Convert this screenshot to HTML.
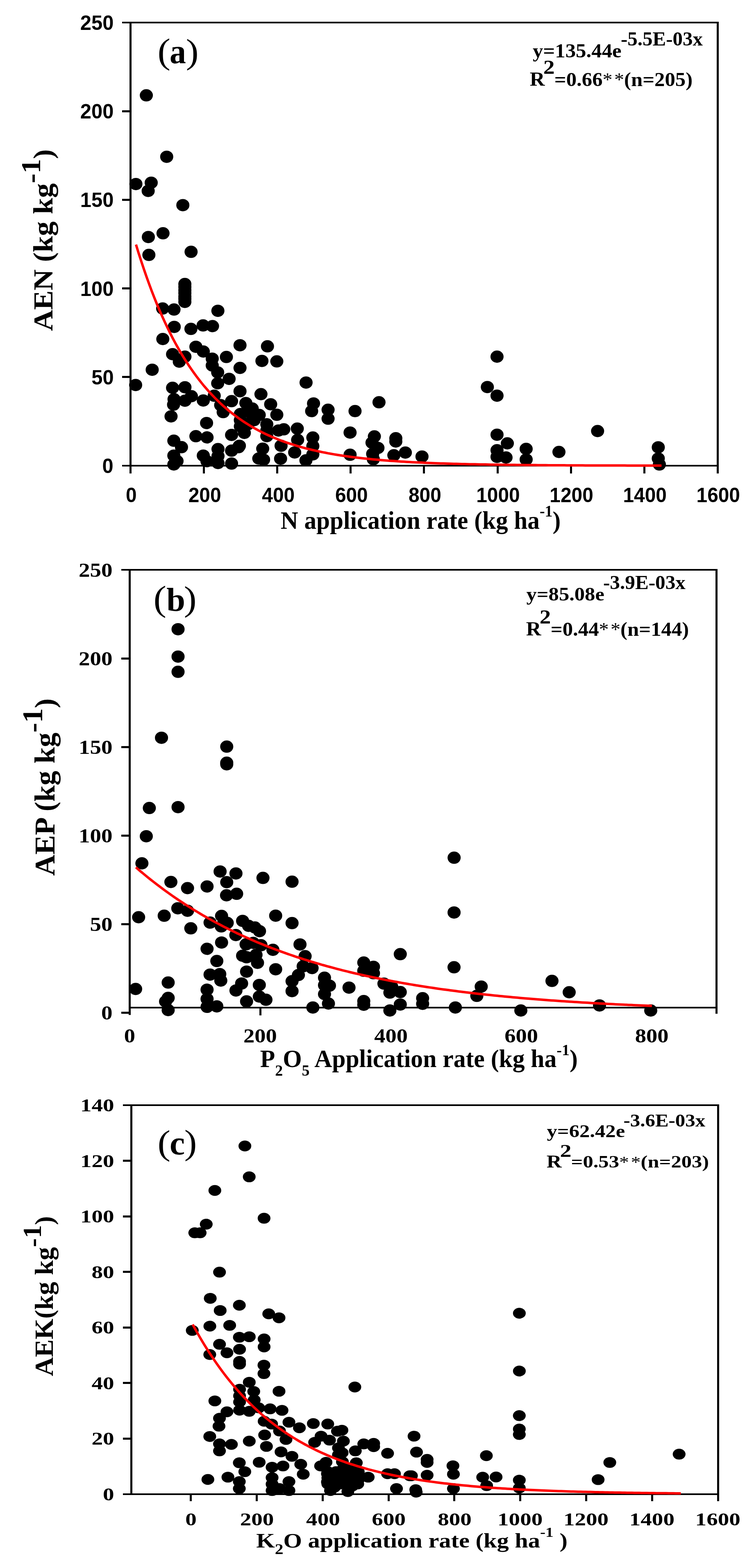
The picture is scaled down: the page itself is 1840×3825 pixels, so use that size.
<!DOCTYPE html>
<html><head><meta charset="utf-8"><title>Agronomic efficiency vs application rate</title>
<style>html,body{margin:0;padding:0;background:#fff;}svg{display:block;}</style></head>
<body><svg width="1840" height="3825" viewBox="0 0 1840 3825">
<rect width="1840" height="3825" fill="#fff"/>
<g shape-rendering="crispEdges">
<line x1="318.5" y1="53.0" x2="318.5" y2="1155.0" stroke="#000" stroke-width="5"/>
<line x1="297.5" y1="55.0" x2="1753.5" y2="55.0" stroke="#000" stroke-width="4"/>
<line x1="1751.5" y1="53.0" x2="1751.5" y2="1155.0" stroke="#000" stroke-width="4.5"/>
<line x1="297.5" y1="1136.0" x2="1751.5" y2="1136.0" stroke="#000" stroke-width="4"/>
<line x1="297.5" y1="919.8" x2="318.5" y2="919.8" stroke="#000" stroke-width="5"/>
<line x1="297.5" y1="703.6" x2="318.5" y2="703.6" stroke="#000" stroke-width="5"/>
<line x1="297.5" y1="487.4" x2="318.5" y2="487.4" stroke="#000" stroke-width="5"/>
<line x1="297.5" y1="271.2" x2="318.5" y2="271.2" stroke="#000" stroke-width="5"/>
<line x1="497.6" y1="1136.0" x2="497.6" y2="1155.0" stroke="#000" stroke-width="5"/>
<line x1="676.7" y1="1136.0" x2="676.7" y2="1155.0" stroke="#000" stroke-width="5"/>
<line x1="855.8" y1="1136.0" x2="855.8" y2="1155.0" stroke="#000" stroke-width="5"/>
<line x1="1034.9" y1="1136.0" x2="1034.9" y2="1155.0" stroke="#000" stroke-width="5"/>
<line x1="1214.0" y1="1136.0" x2="1214.0" y2="1155.0" stroke="#000" stroke-width="5"/>
<line x1="1393.1" y1="1136.0" x2="1393.1" y2="1155.0" stroke="#000" stroke-width="5"/>
<line x1="1572.2" y1="1136.0" x2="1572.2" y2="1155.0" stroke="#000" stroke-width="5"/>
<line x1="316.5" y1="1388.0" x2="316.5" y2="2476.0" stroke="#000" stroke-width="5"/>
<line x1="295.5" y1="1390.0" x2="1750.7" y2="1390.0" stroke="#000" stroke-width="4"/>
<line x1="1748.7" y1="1388.0" x2="1748.7" y2="2472.5" stroke="#000" stroke-width="4.5"/>
<line x1="316.5" y1="2457.5" x2="1748.7" y2="2457.5" stroke="#000" stroke-width="4"/>
<line x1="295.5" y1="2470.0" x2="316.5" y2="2470.0" stroke="#000" stroke-width="5"/>
<line x1="295.5" y1="2254.0" x2="316.5" y2="2254.0" stroke="#000" stroke-width="5"/>
<line x1="295.5" y1="2038.0" x2="316.5" y2="2038.0" stroke="#000" stroke-width="5"/>
<line x1="295.5" y1="1822.0" x2="316.5" y2="1822.0" stroke="#000" stroke-width="5"/>
<line x1="295.5" y1="1606.0" x2="316.5" y2="1606.0" stroke="#000" stroke-width="5"/>
<line x1="635.1" y1="2457.5" x2="635.1" y2="2477.0" stroke="#000" stroke-width="5"/>
<line x1="953.7" y1="2457.5" x2="953.7" y2="2477.0" stroke="#000" stroke-width="5"/>
<line x1="1272.3" y1="2457.5" x2="1272.3" y2="2477.0" stroke="#000" stroke-width="5"/>
<line x1="1590.9" y1="2457.5" x2="1590.9" y2="2477.0" stroke="#000" stroke-width="5"/>
<line x1="320.8" y1="2694.0" x2="320.8" y2="3647.0" stroke="#000" stroke-width="5"/>
<line x1="299.8" y1="2696.0" x2="1754.4" y2="2696.0" stroke="#000" stroke-width="4"/>
<line x1="1752.4" y1="2694.0" x2="1752.4" y2="3662.0" stroke="#000" stroke-width="4.5"/>
<line x1="299.8" y1="3645.0" x2="1752.4" y2="3645.0" stroke="#000" stroke-width="4"/>
<line x1="299.8" y1="3509.4" x2="320.8" y2="3509.4" stroke="#000" stroke-width="5"/>
<line x1="299.8" y1="3373.8" x2="320.8" y2="3373.8" stroke="#000" stroke-width="5"/>
<line x1="299.8" y1="3238.3" x2="320.8" y2="3238.3" stroke="#000" stroke-width="5"/>
<line x1="299.8" y1="3102.7" x2="320.8" y2="3102.7" stroke="#000" stroke-width="5"/>
<line x1="299.8" y1="2967.1" x2="320.8" y2="2967.1" stroke="#000" stroke-width="5"/>
<line x1="299.8" y1="2831.5" x2="320.8" y2="2831.5" stroke="#000" stroke-width="5"/>
<line x1="465.4" y1="3645.0" x2="465.4" y2="3662.0" stroke="#000" stroke-width="5"/>
<line x1="626.3" y1="3645.0" x2="626.3" y2="3662.0" stroke="#000" stroke-width="5"/>
<line x1="787.1" y1="3645.0" x2="787.1" y2="3662.0" stroke="#000" stroke-width="5"/>
<line x1="948.0" y1="3645.0" x2="948.0" y2="3662.0" stroke="#000" stroke-width="5"/>
<line x1="1108.8" y1="3645.0" x2="1108.8" y2="3662.0" stroke="#000" stroke-width="5"/>
<line x1="1269.7" y1="3645.0" x2="1269.7" y2="3662.0" stroke="#000" stroke-width="5"/>
<line x1="1430.6" y1="3645.0" x2="1430.6" y2="3662.0" stroke="#000" stroke-width="5"/>
<line x1="1591.4" y1="3645.0" x2="1591.4" y2="3662.0" stroke="#000" stroke-width="5"/>
</g>
<g fill="#000">
<ellipse cx="357.1" cy="232.6" rx="16" ry="15"/>
<ellipse cx="406.8" cy="382.4" rx="16" ry="15"/>
<ellipse cx="331.6" cy="448.9" rx="16" ry="15"/>
<ellipse cx="369.0" cy="445.7" rx="16" ry="15"/>
<ellipse cx="361.6" cy="465.7" rx="16" ry="15"/>
<ellipse cx="446.2" cy="500.4" rx="16" ry="15"/>
<ellipse cx="362.0" cy="578.2" rx="16" ry="15"/>
<ellipse cx="397.8" cy="569.1" rx="16" ry="15"/>
<ellipse cx="363.3" cy="621.8" rx="16" ry="15"/>
<ellipse cx="466.3" cy="614.3" rx="16" ry="15"/>
<ellipse cx="451.1" cy="692.8" rx="16" ry="15"/>
<ellipse cx="451.1" cy="707.9" rx="16" ry="15"/>
<ellipse cx="451.1" cy="723.0" rx="16" ry="15"/>
<ellipse cx="451.1" cy="736.4" rx="16" ry="15"/>
<ellipse cx="396.9" cy="752.6" rx="16" ry="15"/>
<ellipse cx="424.7" cy="755.1" rx="16" ry="15"/>
<ellipse cx="531.7" cy="758.2" rx="16" ry="15"/>
<ellipse cx="425.2" cy="797.4" rx="16" ry="15"/>
<ellipse cx="465.9" cy="802.3" rx="16" ry="15"/>
<ellipse cx="495.6" cy="793.8" rx="16" ry="15"/>
<ellipse cx="518.6" cy="795.5" rx="16" ry="15"/>
<ellipse cx="397.3" cy="827.0" rx="16" ry="15"/>
<ellipse cx="478.0" cy="845.9" rx="16" ry="15"/>
<ellipse cx="496.1" cy="857.5" rx="16" ry="15"/>
<ellipse cx="585.7" cy="842.2" rx="16" ry="15"/>
<ellipse cx="421.1" cy="864.0" rx="16" ry="15"/>
<ellipse cx="451.3" cy="870.1" rx="16" ry="15"/>
<ellipse cx="437.5" cy="882.2" rx="16" ry="15"/>
<ellipse cx="517.9" cy="874.9" rx="16" ry="15"/>
<ellipse cx="552.5" cy="870.8" rx="16" ry="15"/>
<ellipse cx="371.4" cy="901.9" rx="16" ry="15"/>
<ellipse cx="331.0" cy="939.2" rx="16" ry="15"/>
<ellipse cx="517.9" cy="891.5" rx="16" ry="15"/>
<ellipse cx="531.2" cy="908.4" rx="16" ry="15"/>
<ellipse cx="531.2" cy="935.0" rx="16" ry="15"/>
<ellipse cx="559.1" cy="924.2" rx="16" ry="15"/>
<ellipse cx="585.7" cy="897.5" rx="16" ry="15"/>
<ellipse cx="585.7" cy="954.4" rx="16" ry="15"/>
<ellipse cx="421.1" cy="946.0" rx="16" ry="15"/>
<ellipse cx="451.3" cy="944.7" rx="16" ry="15"/>
<ellipse cx="467.1" cy="966.5" rx="16" ry="15"/>
<ellipse cx="451.3" cy="977.4" rx="16" ry="15"/>
<ellipse cx="424.7" cy="973.8" rx="16" ry="15"/>
<ellipse cx="423.5" cy="987.1" rx="16" ry="15"/>
<ellipse cx="417.4" cy="1015.7" rx="16" ry="15"/>
<ellipse cx="496.1" cy="977.0" rx="16" ry="15"/>
<ellipse cx="522.8" cy="965.3" rx="16" ry="15"/>
<ellipse cx="538.5" cy="988.3" rx="16" ry="15"/>
<ellipse cx="544.6" cy="1005.3" rx="16" ry="15"/>
<ellipse cx="565.1" cy="978.6" rx="16" ry="15"/>
<ellipse cx="504.1" cy="1031.9" rx="16" ry="15"/>
<ellipse cx="478.0" cy="1064.1" rx="16" ry="15"/>
<ellipse cx="505.3" cy="1067.0" rx="16" ry="15"/>
<ellipse cx="565.1" cy="1061.0" rx="16" ry="15"/>
<ellipse cx="424.2" cy="1075.1" rx="16" ry="15"/>
<ellipse cx="442.9" cy="1090.8" rx="16" ry="15"/>
<ellipse cx="424.2" cy="1111.4" rx="16" ry="15"/>
<ellipse cx="432.0" cy="1124.7" rx="16" ry="15"/>
<ellipse cx="424.2" cy="1133.0" rx="16" ry="15"/>
<ellipse cx="496.1" cy="1111.4" rx="16" ry="15"/>
<ellipse cx="505.0" cy="1125.0" rx="16" ry="15"/>
<ellipse cx="532.0" cy="1095.6" rx="16" ry="15"/>
<ellipse cx="532.0" cy="1112.6" rx="16" ry="15"/>
<ellipse cx="532.0" cy="1129.5" rx="16" ry="15"/>
<ellipse cx="565.1" cy="1099.3" rx="16" ry="15"/>
<ellipse cx="582.1" cy="1090.8" rx="16" ry="15"/>
<ellipse cx="565.1" cy="1130.8" rx="16" ry="15"/>
<ellipse cx="652.7" cy="844.8" rx="16" ry="15"/>
<ellipse cx="639.2" cy="880.4" rx="16" ry="15"/>
<ellipse cx="675.5" cy="881.6" rx="16" ry="15"/>
<ellipse cx="746.9" cy="933.2" rx="16" ry="15"/>
<ellipse cx="636.8" cy="961.5" rx="16" ry="15"/>
<ellipse cx="660.5" cy="986.2" rx="16" ry="15"/>
<ellipse cx="675.5" cy="1011.8" rx="16" ry="15"/>
<ellipse cx="600.0" cy="983.3" rx="16" ry="15"/>
<ellipse cx="615.5" cy="996.5" rx="16" ry="15"/>
<ellipse cx="632.6" cy="1012.3" rx="16" ry="15"/>
<ellipse cx="617.0" cy="1017.6" rx="16" ry="15"/>
<ellipse cx="586.5" cy="1010.0" rx="16" ry="15"/>
<ellipse cx="586.5" cy="1025.0" rx="16" ry="15"/>
<ellipse cx="586.5" cy="1040.0" rx="16" ry="15"/>
<ellipse cx="596.3" cy="1055.9" rx="16" ry="15"/>
<ellipse cx="651.1" cy="1035.0" rx="16" ry="15"/>
<ellipse cx="651.1" cy="1050.0" rx="16" ry="15"/>
<ellipse cx="651.1" cy="1064.0" rx="16" ry="15"/>
<ellipse cx="679.5" cy="1050.2" rx="16" ry="15"/>
<ellipse cx="692.5" cy="1047.3" rx="16" ry="15"/>
<ellipse cx="685.9" cy="1087.4" rx="16" ry="15"/>
<ellipse cx="684.7" cy="1118.9" rx="16" ry="15"/>
<ellipse cx="641.1" cy="1094.6" rx="16" ry="15"/>
<ellipse cx="631.5" cy="1118.5" rx="16" ry="15"/>
<ellipse cx="643.2" cy="1121.4" rx="16" ry="15"/>
<ellipse cx="584.2" cy="1087.4" rx="16" ry="15"/>
<ellipse cx="725.5" cy="1045.6" rx="16" ry="15"/>
<ellipse cx="726.3" cy="1073.0" rx="16" ry="15"/>
<ellipse cx="719.1" cy="1103.7" rx="16" ry="15"/>
<ellipse cx="763.4" cy="1067.3" rx="16" ry="15"/>
<ellipse cx="763.4" cy="1088.0" rx="16" ry="15"/>
<ellipse cx="763.4" cy="1108.5" rx="16" ry="15"/>
<ellipse cx="746.5" cy="1123.0" rx="16" ry="15"/>
<ellipse cx="765.1" cy="984.2" rx="16" ry="15"/>
<ellipse cx="760.5" cy="1002.8" rx="16" ry="15"/>
<ellipse cx="800.6" cy="999.5" rx="16" ry="15"/>
<ellipse cx="800.6" cy="1021.3" rx="16" ry="15"/>
<ellipse cx="866.4" cy="1002.8" rx="16" ry="15"/>
<ellipse cx="854.3" cy="1055.2" rx="16" ry="15"/>
<ellipse cx="854.3" cy="1109.3" rx="16" ry="15"/>
<ellipse cx="924.9" cy="981.3" rx="16" ry="15"/>
<ellipse cx="913.6" cy="1064.6" rx="16" ry="15"/>
<ellipse cx="907.8" cy="1079.8" rx="16" ry="15"/>
<ellipse cx="922.3" cy="1092.7" rx="16" ry="15"/>
<ellipse cx="909.4" cy="1107.2" rx="16" ry="15"/>
<ellipse cx="911.0" cy="1120.2" rx="16" ry="15"/>
<ellipse cx="965.9" cy="1069.0" rx="16" ry="15"/>
<ellipse cx="965.9" cy="1077.0" rx="16" ry="15"/>
<ellipse cx="961.1" cy="1110.5" rx="16" ry="15"/>
<ellipse cx="989.2" cy="1104.0" rx="16" ry="15"/>
<ellipse cx="1029.8" cy="1113.7" rx="16" ry="15"/>
<ellipse cx="1189.3" cy="944.2" rx="16" ry="15"/>
<ellipse cx="1212.9" cy="965.2" rx="16" ry="15"/>
<ellipse cx="1212.9" cy="1060.4" rx="16" ry="15"/>
<ellipse cx="1238.1" cy="1081.5" rx="16" ry="15"/>
<ellipse cx="1212.9" cy="1098.3" rx="16" ry="15"/>
<ellipse cx="1212.9" cy="1114.4" rx="16" ry="15"/>
<ellipse cx="1234.9" cy="1116.0" rx="16" ry="15"/>
<ellipse cx="1284.0" cy="1095.0" rx="16" ry="15"/>
<ellipse cx="1284.0" cy="1120.9" rx="16" ry="15"/>
<ellipse cx="1364.0" cy="1102.5" rx="16" ry="15"/>
<ellipse cx="1458.3" cy="1051.5" rx="16" ry="15"/>
<ellipse cx="1212.9" cy="870.0" rx="16" ry="15"/>
<ellipse cx="1606.4" cy="1091.2" rx="16" ry="15"/>
<ellipse cx="1606.4" cy="1118.4" rx="16" ry="15"/>
<ellipse cx="1609.1" cy="1133.1" rx="16" ry="15"/>
<ellipse cx="603.0" cy="1003.0" rx="16" ry="15"/>
<ellipse cx="620.0" cy="1025.0" rx="16" ry="15"/>
<ellipse cx="605.0" cy="1035.0" rx="16" ry="15"/>
<ellipse cx="451.1" cy="700.0" rx="16" ry="15"/>
<ellipse cx="451.1" cy="715.0" rx="16" ry="15"/>
<ellipse cx="451.1" cy="729.0" rx="16" ry="15"/>
<ellipse cx="434.5" cy="1534.9" rx="16" ry="15"/>
<ellipse cx="434.5" cy="1601.7" rx="16" ry="15"/>
<ellipse cx="434.5" cy="1638.8" rx="16" ry="15"/>
<ellipse cx="394.1" cy="1799.7" rx="16" ry="15"/>
<ellipse cx="553.3" cy="1821.3" rx="16" ry="15"/>
<ellipse cx="553.3" cy="1860.5" rx="16" ry="15"/>
<ellipse cx="553.3" cy="1864.5" rx="16" ry="15"/>
<ellipse cx="364.4" cy="1971.1" rx="16" ry="15"/>
<ellipse cx="434.5" cy="1968.9" rx="16" ry="15"/>
<ellipse cx="357.0" cy="2039.9" rx="16" ry="15"/>
<ellipse cx="346.3" cy="2106.0" rx="16" ry="15"/>
<ellipse cx="417.0" cy="2151.5" rx="16" ry="15"/>
<ellipse cx="457.6" cy="2166.5" rx="16" ry="15"/>
<ellipse cx="505.3" cy="2162.4" rx="16" ry="15"/>
<ellipse cx="537.1" cy="2125.9" rx="16" ry="15"/>
<ellipse cx="575.8" cy="2130.7" rx="16" ry="15"/>
<ellipse cx="553.3" cy="2152.0" rx="16" ry="15"/>
<ellipse cx="552.8" cy="2184.0" rx="16" ry="15"/>
<ellipse cx="577.5" cy="2180.3" rx="16" ry="15"/>
<ellipse cx="338.3" cy="2237.5" rx="16" ry="15"/>
<ellipse cx="400.7" cy="2233.8" rx="16" ry="15"/>
<ellipse cx="433.9" cy="2215.7" rx="16" ry="15"/>
<ellipse cx="457.6" cy="2221.7" rx="16" ry="15"/>
<ellipse cx="465.6" cy="2264.6" rx="16" ry="15"/>
<ellipse cx="512.6" cy="2250.6" rx="16" ry="15"/>
<ellipse cx="540.7" cy="2234.3" rx="16" ry="15"/>
<ellipse cx="554.5" cy="2251.3" rx="16" ry="15"/>
<ellipse cx="540.0" cy="2259.8" rx="16" ry="15"/>
<ellipse cx="592.0" cy="2246.4" rx="16" ry="15"/>
<ellipse cx="606.6" cy="2258.5" rx="16" ry="15"/>
<ellipse cx="575.5" cy="2281.0" rx="16" ry="15"/>
<ellipse cx="331.0" cy="2412.5" rx="16" ry="15"/>
<ellipse cx="410.4" cy="2396.8" rx="16" ry="15"/>
<ellipse cx="410.4" cy="2434.3" rx="16" ry="15"/>
<ellipse cx="404.0" cy="2443.0" rx="16" ry="15"/>
<ellipse cx="410.4" cy="2464.0" rx="16" ry="15"/>
<ellipse cx="505.3" cy="2314.5" rx="16" ry="15"/>
<ellipse cx="540.7" cy="2299.2" rx="16" ry="15"/>
<ellipse cx="529.1" cy="2344.3" rx="16" ry="15"/>
<ellipse cx="512.6" cy="2377.4" rx="16" ry="15"/>
<ellipse cx="536.3" cy="2376.2" rx="16" ry="15"/>
<ellipse cx="538.8" cy="2392.0" rx="16" ry="15"/>
<ellipse cx="505.3" cy="2414.2" rx="16" ry="15"/>
<ellipse cx="505.3" cy="2436.8" rx="16" ry="15"/>
<ellipse cx="505.3" cy="2456.1" rx="16" ry="15"/>
<ellipse cx="529.1" cy="2454.9" rx="16" ry="15"/>
<ellipse cx="600.5" cy="2303.6" rx="16" ry="15"/>
<ellipse cx="592.0" cy="2331.4" rx="16" ry="15"/>
<ellipse cx="601.7" cy="2335.1" rx="16" ry="15"/>
<ellipse cx="601.7" cy="2370.2" rx="16" ry="15"/>
<ellipse cx="589.6" cy="2399.2" rx="16" ry="15"/>
<ellipse cx="575.8" cy="2416.2" rx="16" ry="15"/>
<ellipse cx="601.7" cy="2442.8" rx="16" ry="15"/>
<ellipse cx="641.7" cy="2141.6" rx="16" ry="15"/>
<ellipse cx="712.7" cy="2150.8" rx="16" ry="15"/>
<ellipse cx="672.7" cy="2233.7" rx="16" ry="15"/>
<ellipse cx="712.7" cy="2251.8" rx="16" ry="15"/>
<ellipse cx="622.0" cy="2262.5" rx="16" ry="15"/>
<ellipse cx="633.3" cy="2271.4" rx="16" ry="15"/>
<ellipse cx="636.9" cy="2305.8" rx="16" ry="15"/>
<ellipse cx="666.0" cy="2317.0" rx="16" ry="15"/>
<ellipse cx="732.1" cy="2303.9" rx="16" ry="15"/>
<ellipse cx="624.8" cy="2329.3" rx="16" ry="15"/>
<ellipse cx="628.4" cy="2348.7" rx="16" ry="15"/>
<ellipse cx="672.7" cy="2364.4" rx="16" ry="15"/>
<ellipse cx="632.8" cy="2402.7" rx="16" ry="15"/>
<ellipse cx="632.8" cy="2431.0" rx="16" ry="15"/>
<ellipse cx="649.0" cy="2438.8" rx="16" ry="15"/>
<ellipse cx="744.6" cy="2332.5" rx="16" ry="15"/>
<ellipse cx="739.8" cy="2357.2" rx="16" ry="15"/>
<ellipse cx="761.6" cy="2361.5" rx="16" ry="15"/>
<ellipse cx="728.2" cy="2378.5" rx="16" ry="15"/>
<ellipse cx="712.7" cy="2393.5" rx="16" ry="15"/>
<ellipse cx="712.7" cy="2417.7" rx="16" ry="15"/>
<ellipse cx="763.5" cy="2457.7" rx="16" ry="15"/>
<ellipse cx="791.9" cy="2385.0" rx="16" ry="15"/>
<ellipse cx="791.9" cy="2403.2" rx="16" ry="15"/>
<ellipse cx="804.0" cy="2404.4" rx="16" ry="15"/>
<ellipse cx="791.9" cy="2425.0" rx="16" ry="15"/>
<ellipse cx="801.5" cy="2448.0" rx="16" ry="15"/>
<ellipse cx="851.7" cy="2409.2" rx="16" ry="15"/>
<ellipse cx="976.8" cy="2327.6" rx="16" ry="15"/>
<ellipse cx="887.7" cy="2348.0" rx="16" ry="15"/>
<ellipse cx="911.4" cy="2358.4" rx="16" ry="15"/>
<ellipse cx="887.7" cy="2368.1" rx="16" ry="15"/>
<ellipse cx="911.4" cy="2374.1" rx="16" ry="15"/>
<ellipse cx="1108.0" cy="2359.6" rx="16" ry="15"/>
<ellipse cx="936.9" cy="2399.5" rx="16" ry="15"/>
<ellipse cx="951.4" cy="2421.3" rx="16" ry="15"/>
<ellipse cx="976.8" cy="2420.1" rx="16" ry="15"/>
<ellipse cx="976.8" cy="2450.4" rx="16" ry="15"/>
<ellipse cx="951.4" cy="2464.9" rx="16" ry="15"/>
<ellipse cx="887.7" cy="2442.0" rx="16" ry="15"/>
<ellipse cx="887.7" cy="2451.0" rx="16" ry="15"/>
<ellipse cx="1031.3" cy="2435.0" rx="16" ry="15"/>
<ellipse cx="1031.3" cy="2448.7" rx="16" ry="15"/>
<ellipse cx="1111.2" cy="2457.7" rx="16" ry="15"/>
<ellipse cx="1108.1" cy="2225.9" rx="16" ry="15"/>
<ellipse cx="1174.3" cy="2406.7" rx="16" ry="15"/>
<ellipse cx="1163.6" cy="2429.3" rx="16" ry="15"/>
<ellipse cx="1347.0" cy="2392.8" rx="16" ry="15"/>
<ellipse cx="1389.0" cy="2420.5" rx="16" ry="15"/>
<ellipse cx="1463.0" cy="2452.7" rx="16" ry="15"/>
<ellipse cx="1588.0" cy="2465.0" rx="16" ry="15"/>
<ellipse cx="1108.2" cy="2092.3" rx="16" ry="15"/>
<ellipse cx="1271.0" cy="2465.0" rx="16" ry="15"/>
<ellipse cx="618.0" cy="2300.0" rx="16" ry="15"/>
<ellipse cx="956.0" cy="2407.0" rx="16" ry="15"/>
<ellipse cx="597.6" cy="2795.5" rx="15.6" ry="13.2"/>
<ellipse cx="608.2" cy="2870.8" rx="15.6" ry="13.2"/>
<ellipse cx="524.3" cy="2904.0" rx="15.6" ry="13.2"/>
<ellipse cx="644.4" cy="2971.8" rx="15.6" ry="13.2"/>
<ellipse cx="503.3" cy="2986.3" rx="15.6" ry="13.2"/>
<ellipse cx="475.3" cy="3007.3" rx="15.6" ry="13.2"/>
<ellipse cx="488.4" cy="3007.3" rx="15.6" ry="13.2"/>
<ellipse cx="535.7" cy="3103.3" rx="15.6" ry="13.2"/>
<ellipse cx="513.1" cy="3167.2" rx="15.6" ry="13.2"/>
<ellipse cx="584.1" cy="3184.0" rx="15.6" ry="13.2"/>
<ellipse cx="537.3" cy="3196.9" rx="15.6" ry="13.2"/>
<ellipse cx="655.8" cy="3205.0" rx="15.6" ry="13.2"/>
<ellipse cx="680.9" cy="3214.7" rx="15.6" ry="13.2"/>
<ellipse cx="469.2" cy="3245.4" rx="15.6" ry="13.2"/>
<ellipse cx="512.1" cy="3235.0" rx="15.6" ry="13.2"/>
<ellipse cx="560.5" cy="3233.1" rx="15.6" ry="13.2"/>
<ellipse cx="584.1" cy="3262.1" rx="15.6" ry="13.2"/>
<ellipse cx="608.3" cy="3260.9" rx="15.6" ry="13.2"/>
<ellipse cx="644.5" cy="3266.3" rx="15.6" ry="13.2"/>
<ellipse cx="644.5" cy="3285.7" rx="15.6" ry="13.2"/>
<ellipse cx="535.7" cy="3279.3" rx="15.6" ry="13.2"/>
<ellipse cx="511.9" cy="3304.3" rx="15.6" ry="13.2"/>
<ellipse cx="553.8" cy="3300.0" rx="15.6" ry="13.2"/>
<ellipse cx="584.6" cy="3291.5" rx="15.6" ry="13.2"/>
<ellipse cx="584.6" cy="3321.0" rx="15.6" ry="13.2"/>
<ellipse cx="584.6" cy="3327.6" rx="15.6" ry="13.2"/>
<ellipse cx="644.1" cy="3330.2" rx="15.6" ry="13.2"/>
<ellipse cx="644.1" cy="3350.8" rx="15.6" ry="13.2"/>
<ellipse cx="608.3" cy="3371.9" rx="15.6" ry="13.2"/>
<ellipse cx="584.6" cy="3389.0" rx="15.6" ry="13.2"/>
<ellipse cx="584.6" cy="3405.0" rx="15.6" ry="13.2"/>
<ellipse cx="584.6" cy="3420.0" rx="15.6" ry="13.2"/>
<ellipse cx="584.6" cy="3440.0" rx="15.6" ry="13.2"/>
<ellipse cx="619.2" cy="3394.4" rx="15.6" ry="13.2"/>
<ellipse cx="620.4" cy="3415.0" rx="15.6" ry="13.2"/>
<ellipse cx="680.9" cy="3393.9" rx="15.6" ry="13.2"/>
<ellipse cx="524.3" cy="3417.4" rx="15.6" ry="13.2"/>
<ellipse cx="553.8" cy="3444.0" rx="15.6" ry="13.2"/>
<ellipse cx="608.3" cy="3442.8" rx="15.6" ry="13.2"/>
<ellipse cx="631.3" cy="3434.3" rx="15.6" ry="13.2"/>
<ellipse cx="659.1" cy="3436.8" rx="15.6" ry="13.2"/>
<ellipse cx="688.2" cy="3440.4" rx="15.6" ry="13.2"/>
<ellipse cx="535.6" cy="3459.8" rx="15.6" ry="13.2"/>
<ellipse cx="534.4" cy="3479.1" rx="15.6" ry="13.2"/>
<ellipse cx="644.6" cy="3467.0" rx="15.6" ry="13.2"/>
<ellipse cx="705.1" cy="3469.4" rx="15.6" ry="13.2"/>
<ellipse cx="511.9" cy="3504.2" rx="15.6" ry="13.2"/>
<ellipse cx="535.6" cy="3522.3" rx="15.6" ry="13.2"/>
<ellipse cx="564.7" cy="3523.5" rx="15.6" ry="13.2"/>
<ellipse cx="535.6" cy="3539.3" rx="15.6" ry="13.2"/>
<ellipse cx="608.3" cy="3515.5" rx="15.6" ry="13.2"/>
<ellipse cx="645.8" cy="3500.5" rx="15.6" ry="13.2"/>
<ellipse cx="650.2" cy="3528.4" rx="15.6" ry="13.2"/>
<ellipse cx="662.8" cy="3473.9" rx="15.6" ry="13.2"/>
<ellipse cx="682.1" cy="3490.8" rx="15.6" ry="13.2"/>
<ellipse cx="697.9" cy="3511.4" rx="15.6" ry="13.2"/>
<ellipse cx="730.6" cy="3483.0" rx="15.6" ry="13.2"/>
<ellipse cx="685.8" cy="3541.7" rx="15.6" ry="13.2"/>
<ellipse cx="712.4" cy="3552.6" rx="15.6" ry="13.2"/>
<ellipse cx="632.5" cy="3567.1" rx="15.6" ry="13.2"/>
<ellipse cx="584.0" cy="3568.3" rx="15.6" ry="13.2"/>
<ellipse cx="597.4" cy="3590.1" rx="15.6" ry="13.2"/>
<ellipse cx="556.2" cy="3603.4" rx="15.6" ry="13.2"/>
<ellipse cx="584.0" cy="3614.3" rx="15.6" ry="13.2"/>
<ellipse cx="584.0" cy="3631.3" rx="15.6" ry="13.2"/>
<ellipse cx="507.3" cy="3609.0" rx="15.6" ry="13.2"/>
<ellipse cx="664.0" cy="3579.2" rx="15.6" ry="13.2"/>
<ellipse cx="690.6" cy="3576.1" rx="15.6" ry="13.2"/>
<ellipse cx="664.0" cy="3604.6" rx="15.6" ry="13.2"/>
<ellipse cx="664.0" cy="3620.4" rx="15.6" ry="13.2"/>
<ellipse cx="664.0" cy="3636.1" rx="15.6" ry="13.2"/>
<ellipse cx="705.1" cy="3614.3" rx="15.6" ry="13.2"/>
<ellipse cx="705.1" cy="3636.1" rx="15.6" ry="13.2"/>
<ellipse cx="682.1" cy="3631.3" rx="15.6" ry="13.2"/>
<ellipse cx="865.9" cy="3383.5" rx="15.6" ry="13.2"/>
<ellipse cx="764.6" cy="3472.6" rx="15.6" ry="13.2"/>
<ellipse cx="799.8" cy="3473.8" rx="15.6" ry="13.2"/>
<ellipse cx="834.4" cy="3488.9" rx="15.6" ry="13.2"/>
<ellipse cx="823.5" cy="3491.3" rx="15.6" ry="13.2"/>
<ellipse cx="783.5" cy="3503.4" rx="15.6" ry="13.2"/>
<ellipse cx="767.8" cy="3518.5" rx="15.6" ry="13.2"/>
<ellipse cx="804.1" cy="3513.1" rx="15.6" ry="13.2"/>
<ellipse cx="838.0" cy="3515.5" rx="15.6" ry="13.2"/>
<ellipse cx="825.9" cy="3532.0" rx="15.6" ry="13.2"/>
<ellipse cx="867.1" cy="3539.3" rx="15.6" ry="13.2"/>
<ellipse cx="887.7" cy="3522.3" rx="15.6" ry="13.2"/>
<ellipse cx="911.9" cy="3521.0" rx="15.6" ry="13.2"/>
<ellipse cx="911.9" cy="3529.0" rx="15.6" ry="13.2"/>
<ellipse cx="945.8" cy="3545.3" rx="15.6" ry="13.2"/>
<ellipse cx="733.9" cy="3572.0" rx="15.6" ry="13.2"/>
<ellipse cx="740.0" cy="3596.2" rx="15.6" ry="13.2"/>
<ellipse cx="825.9" cy="3549.0" rx="15.6" ry="13.2"/>
<ellipse cx="835.6" cy="3566.0" rx="15.6" ry="13.2"/>
<ellipse cx="835.6" cy="3585.0" rx="15.6" ry="13.2"/>
<ellipse cx="820.0" cy="3605.0" rx="15.6" ry="13.2"/>
<ellipse cx="845.0" cy="3620.0" rx="15.6" ry="13.2"/>
<ellipse cx="806.5" cy="3636.0" rx="15.6" ry="13.2"/>
<ellipse cx="848.9" cy="3638.5" rx="15.6" ry="13.2"/>
<ellipse cx="795.6" cy="3567.1" rx="15.6" ry="13.2"/>
<ellipse cx="782.3" cy="3576.0" rx="15.6" ry="13.2"/>
<ellipse cx="799.0" cy="3595.0" rx="15.6" ry="13.2"/>
<ellipse cx="799.0" cy="3615.0" rx="15.6" ry="13.2"/>
<ellipse cx="869.5" cy="3568.3" rx="15.6" ry="13.2"/>
<ellipse cx="874.3" cy="3590.0" rx="15.6" ry="13.2"/>
<ellipse cx="874.3" cy="3609.5" rx="15.6" ry="13.2"/>
<ellipse cx="898.5" cy="3603.4" rx="15.6" ry="13.2"/>
<ellipse cx="860.0" cy="3625.0" rx="15.6" ry="13.2"/>
<ellipse cx="945.8" cy="3595.0" rx="15.6" ry="13.2"/>
<ellipse cx="962.7" cy="3595.0" rx="15.6" ry="13.2"/>
<ellipse cx="967.6" cy="3631.3" rx="15.6" ry="13.2"/>
<ellipse cx="1010.4" cy="3503.4" rx="15.6" ry="13.2"/>
<ellipse cx="1016.4" cy="3542.3" rx="15.6" ry="13.2"/>
<ellipse cx="1042.3" cy="3560.0" rx="15.6" ry="13.2"/>
<ellipse cx="1042.3" cy="3567.5" rx="15.6" ry="13.2"/>
<ellipse cx="1042.3" cy="3598.6" rx="15.6" ry="13.2"/>
<ellipse cx="1000.0" cy="3600.0" rx="15.6" ry="13.2"/>
<ellipse cx="1004.0" cy="3600.0" rx="15.6" ry="13.2"/>
<ellipse cx="1014.5" cy="3634.0" rx="15.6" ry="13.2"/>
<ellipse cx="1015.7" cy="3640.0" rx="15.6" ry="13.2"/>
<ellipse cx="1105.3" cy="3575.6" rx="15.6" ry="13.2"/>
<ellipse cx="1106.5" cy="3596.2" rx="15.6" ry="13.2"/>
<ellipse cx="1106.5" cy="3631.3" rx="15.6" ry="13.2"/>
<ellipse cx="1186.9" cy="3551.0" rx="15.6" ry="13.2"/>
<ellipse cx="1177.9" cy="3603.5" rx="15.6" ry="13.2"/>
<ellipse cx="1210.6" cy="3603.0" rx="15.6" ry="13.2"/>
<ellipse cx="1187.6" cy="3624.1" rx="15.6" ry="13.2"/>
<ellipse cx="1267.3" cy="3453.3" rx="15.6" ry="13.2"/>
<ellipse cx="1267.3" cy="3486.0" rx="15.6" ry="13.2"/>
<ellipse cx="1267.3" cy="3499.3" rx="15.6" ry="13.2"/>
<ellipse cx="1267.3" cy="3610.7" rx="15.6" ry="13.2"/>
<ellipse cx="1267.3" cy="3630.0" rx="15.6" ry="13.2"/>
<ellipse cx="1459.6" cy="3609.4" rx="15.6" ry="13.2"/>
<ellipse cx="1488.1" cy="3567.6" rx="15.6" ry="13.2"/>
<ellipse cx="1657.3" cy="3547.3" rx="15.6" ry="13.2"/>
<ellipse cx="1267.4" cy="3203.5" rx="15.6" ry="13.2"/>
<ellipse cx="1267.4" cy="3344.5" rx="15.6" ry="13.2"/>
<ellipse cx="834.9" cy="3543.9" rx="15.6" ry="13.2"/>
<ellipse cx="800.0" cy="3590.0" rx="15.6" ry="13.2"/>
<ellipse cx="800.0" cy="3605.0" rx="15.6" ry="13.2"/>
<ellipse cx="800.0" cy="3620.0" rx="15.6" ry="13.2"/>
<ellipse cx="820.0" cy="3590.0" rx="15.6" ry="13.2"/>
<ellipse cx="840.0" cy="3600.0" rx="15.6" ry="13.2"/>
<ellipse cx="855.0" cy="3590.0" rx="15.6" ry="13.2"/>
<ellipse cx="855.0" cy="3610.0" rx="15.6" ry="13.2"/>
<ellipse cx="873.0" cy="3620.0" rx="15.6" ry="13.2"/>
<ellipse cx="830.0" cy="3620.0" rx="15.6" ry="13.2"/>
<ellipse cx="816.0" cy="3628.0" rx="15.6" ry="13.2"/>
<ellipse cx="860.0" cy="3580.0" rx="15.6" ry="13.2"/>
</g>
<polyline points="331.9,596.7 338.3,617.6 344.8,637.6 351.2,656.8 357.6,675.3 364.0,693.1 370.4,710.2 376.8,726.7 383.2,742.5 389.6,757.7 396.1,772.3 402.5,786.3 408.9,799.8 415.3,812.8 421.7,825.3 428.1,837.3 434.5,848.8 440.9,859.9 447.3,870.6 453.8,880.8 460.2,890.7 466.6,900.1 473.0,909.2 479.4,918.0 485.8,926.4 492.2,934.5 498.6,942.3 505.1,949.8 511.5,957.0 517.9,963.9 524.3,970.5 530.7,976.9 537.1,983.1 543.5,989.0 549.9,994.6 556.3,1000.1 562.8,1005.3 569.2,1010.4 575.6,1015.2 582.0,1019.9 588.4,1024.4 594.8,1028.7 601.2,1032.8 607.6,1036.8 614.1,1040.7 620.5,1044.3 626.9,1047.9 633.3,1051.3 639.7,1054.6 646.1,1057.7 652.5,1060.7 658.9,1063.6 665.3,1066.4 671.8,1069.1 678.2,1071.7 684.6,1074.2 691.0,1076.6 697.4,1078.9 703.8,1081.1 710.2,1083.2 716.6,1085.2 723.1,1087.2 729.5,1089.1 735.9,1090.9 742.3,1092.6 748.7,1094.3 755.1,1095.9 761.5,1097.5 767.9,1098.9 774.3,1100.4 780.8,1101.8 787.2,1103.1 793.6,1104.3 800.0,1105.6 806.4,1106.7 812.8,1107.9 819.2,1109.0 825.6,1110.0 832.1,1111.0 838.5,1112.0 844.9,1112.9 851.3,1113.8 857.7,1114.7 864.1,1115.5 870.5,1116.3 876.9,1117.0 883.3,1117.8 889.8,1118.5 896.2,1119.1 902.6,1119.8 909.0,1120.4 915.4,1121.0 921.8,1121.6 928.2,1122.2 934.6,1122.7 941.1,1123.2 947.5,1123.7 953.9,1124.2 960.3,1124.6 966.7,1125.1 973.1,1125.5 979.5,1125.9 985.9,1126.3 992.3,1126.7 998.8,1127.0 1005.2,1127.4 1011.6,1127.7 1018.0,1128.0 1024.4,1128.3 1030.8,1128.6 1037.2,1128.9 1043.6,1129.2 1050.1,1129.4 1056.5,1129.7 1062.9,1129.9 1069.3,1130.2 1075.7,1130.4 1082.1,1130.6 1088.5,1130.8 1094.9,1131.0 1101.3,1131.2 1107.8,1131.4 1114.2,1131.6 1120.6,1131.8 1127.0,1131.9 1133.4,1132.1 1139.8,1132.2 1146.2,1132.4 1152.6,1132.5 1159.1,1132.6 1165.5,1132.8 1171.9,1132.9 1178.3,1133.0 1184.7,1133.1 1191.1,1133.2 1197.5,1133.4 1203.9,1133.5 1210.3,1133.6 1216.8,1133.6 1223.2,1133.7 1229.6,1133.8 1236.0,1133.9 1242.4,1134.0 1248.8,1134.1 1255.2,1134.1 1261.6,1134.2 1268.1,1134.3 1274.5,1134.3 1280.9,1134.4 1287.3,1134.5 1293.7,1134.5 1300.1,1134.6 1306.5,1134.6 1312.9,1134.7 1319.3,1134.7 1325.8,1134.8 1332.2,1134.8 1338.6,1134.9 1345.0,1134.9 1351.4,1135.0 1357.8,1135.0 1364.2,1135.0 1370.6,1135.1 1377.1,1135.1 1383.5,1135.2 1389.9,1135.2 1396.3,1135.2 1402.7,1135.2 1409.1,1135.3 1415.5,1135.3 1421.9,1135.3 1428.3,1135.4 1434.8,1135.4 1441.2,1135.4 1447.6,1135.4 1454.0,1135.5 1460.4,1135.5 1466.8,1135.5 1473.2,1135.5 1479.6,1135.5 1486.1,1135.5 1492.5,1135.6 1498.9,1135.6 1505.3,1135.6 1511.7,1135.6 1518.1,1135.6 1524.5,1135.6 1530.9,1135.7 1537.3,1135.7 1543.8,1135.7 1550.2,1135.7 1556.6,1135.7 1563.0,1135.7 1569.4,1135.7 1575.8,1135.7 1582.2,1135.8 1588.6,1135.8 1595.1,1135.8 1601.5,1135.8 1607.9,1135.8 1614.3,1135.8" fill="none" stroke="#f00" stroke-width="6" stroke-linejoin="round" stroke-linecap="butt"/>
<polyline points="331.6,2115.8 337.9,2121.2 344.2,2126.6 350.5,2131.8 356.8,2137.0 363.1,2142.1 369.4,2147.1 375.7,2152.0 382.0,2156.9 388.3,2161.7 394.6,2166.4 400.9,2171.1 407.2,2175.6 413.5,2180.1 419.8,2184.6 426.1,2188.9 432.4,2193.2 438.7,2197.5 445.0,2201.6 451.3,2205.7 457.6,2209.8 463.9,2213.8 470.2,2217.7 476.4,2221.5 482.7,2225.3 489.0,2229.1 495.3,2232.8 501.6,2236.4 507.9,2240.0 514.2,2243.5 520.5,2247.0 526.8,2250.4 533.1,2253.7 539.4,2257.0 545.7,2260.3 552.0,2263.5 558.3,2266.7 564.6,2269.8 570.9,2272.8 577.2,2275.9 583.5,2278.8 589.8,2281.7 596.1,2284.6 602.4,2287.5 608.7,2290.3 615.0,2293.0 621.3,2295.7 627.6,2298.4 633.9,2301.0 640.2,2303.6 646.5,2306.1 652.7,2308.6 659.0,2311.1 665.3,2313.5 671.6,2315.9 677.9,2318.3 684.2,2320.6 690.5,2322.9 696.8,2325.1 703.1,2327.4 709.4,2329.5 715.7,2331.7 722.0,2333.8 728.3,2335.9 734.6,2337.9 740.9,2340.0 747.2,2341.9 753.5,2343.9 759.8,2345.8 766.1,2347.7 772.4,2349.6 778.7,2351.4 785.0,2353.3 791.3,2355.0 797.6,2356.8 803.9,2358.5 810.2,2360.2 816.5,2361.9 822.7,2363.6 829.0,2365.2 835.3,2366.8 841.6,2368.4 847.9,2369.9 854.2,2371.5 860.5,2373.0 866.8,2374.5 873.1,2375.9 879.4,2377.4 885.7,2378.8 892.0,2380.2 898.3,2381.5 904.6,2382.9 910.9,2384.2 917.2,2385.5 923.5,2386.8 929.8,2388.1 936.1,2389.4 942.4,2390.6 948.7,2391.8 955.0,2393.0 961.3,2394.2 967.6,2395.3 973.9,2396.5 980.2,2397.6 986.5,2398.7 992.7,2399.8 999.0,2400.9 1005.3,2401.9 1011.6,2403.0 1017.9,2404.0 1024.2,2405.0 1030.5,2406.0 1036.8,2407.0 1043.1,2408.0 1049.4,2408.9 1055.7,2409.8 1062.0,2410.8 1068.3,2411.7 1074.6,2412.6 1080.9,2413.4 1087.2,2414.3 1093.5,2415.1 1099.8,2416.0 1106.1,2416.8 1112.4,2417.6 1118.7,2418.4 1125.0,2419.2 1131.3,2420.0 1137.6,2420.8 1143.9,2421.5 1150.2,2422.3 1156.5,2423.0 1162.7,2423.7 1169.0,2424.4 1175.3,2425.1 1181.6,2425.8 1187.9,2426.5 1194.2,2427.1 1200.5,2427.8 1206.8,2428.4 1213.1,2429.1 1219.4,2429.7 1225.7,2430.3 1232.0,2430.9 1238.3,2431.5 1244.6,2432.1 1250.9,2432.7 1257.2,2433.3 1263.5,2433.8 1269.8,2434.4 1276.1,2434.9 1282.4,2435.5 1288.7,2436.0 1295.0,2436.5 1301.3,2437.0 1307.6,2437.5 1313.9,2438.0 1320.2,2438.5 1326.5,2439.0 1332.8,2439.5 1339.0,2439.9 1345.3,2440.4 1351.6,2440.8 1357.9,2441.3 1364.2,2441.7 1370.5,2442.2 1376.8,2442.6 1383.1,2443.0 1389.4,2443.4 1395.7,2443.8 1402.0,2444.2 1408.3,2444.6 1414.6,2445.0 1420.9,2445.4 1427.2,2445.8 1433.5,2446.1 1439.8,2446.5 1446.1,2446.9 1452.4,2447.2 1458.7,2447.6 1465.0,2447.9 1471.3,2448.2 1477.6,2448.6 1483.9,2448.9 1490.2,2449.2 1496.5,2449.5 1502.8,2449.9 1509.0,2450.2 1515.3,2450.5 1521.6,2450.8 1527.9,2451.1 1534.2,2451.4 1540.5,2451.6 1546.8,2451.9 1553.1,2452.2 1559.4,2452.5 1565.7,2452.7 1572.0,2453.0 1578.3,2453.3 1584.6,2453.5 1590.9,2453.8" fill="none" stroke="#f00" stroke-width="6" stroke-linejoin="round" stroke-linecap="butt"/>
<polyline points="470.2,3230.9 476.2,3241.8 482.1,3252.4 488.1,3262.7 494.0,3272.8 500.0,3282.6 506.0,3292.1 511.9,3301.4 517.9,3310.4 523.8,3319.2 529.8,3327.8 535.7,3336.1 541.7,3344.3 547.7,3352.2 553.6,3359.9 559.6,3367.4 565.5,3374.7 571.5,3381.8 577.4,3388.7 583.4,3395.5 589.3,3402.0 595.3,3408.4 601.3,3414.6 607.2,3420.7 613.2,3426.6 619.1,3432.3 625.1,3437.9 631.0,3443.4 637.0,3448.7 642.9,3453.9 648.9,3458.9 654.9,3463.8 660.8,3468.5 666.8,3473.2 672.7,3477.7 678.7,3482.1 684.6,3486.4 690.6,3490.6 696.5,3494.6 702.5,3498.6 708.5,3502.4 714.4,3506.2 720.4,3509.8 726.3,3513.4 732.3,3516.9 738.2,3520.2 744.2,3523.5 750.2,3526.7 756.1,3529.8 762.1,3532.8 768.0,3535.8 774.0,3538.7 779.9,3541.5 785.9,3544.2 791.8,3546.8 797.8,3549.4 803.8,3551.9 809.7,3554.4 815.7,3556.8 821.6,3559.1 827.6,3561.4 833.5,3563.6 839.5,3565.7 845.4,3567.8 851.4,3569.8 857.4,3571.8 863.3,3573.7 869.3,3575.6 875.2,3577.4 881.2,3579.2 887.1,3580.9 893.1,3582.6 899.0,3584.3 905.0,3585.8 911.0,3587.4 916.9,3588.9 922.9,3590.4 928.8,3591.8 934.8,3593.2 940.7,3594.6 946.7,3595.9 952.6,3597.2 958.6,3598.5 964.6,3599.7 970.5,3600.9 976.5,3602.0 982.4,3603.2 988.4,3604.3 994.3,3605.3 1000.3,3606.4 1006.3,3607.4 1012.2,3608.4 1018.2,3609.4 1024.1,3610.3 1030.1,3611.2 1036.0,3612.1 1042.0,3613.0 1047.9,3613.8 1053.9,3614.6 1059.9,3615.4 1065.8,3616.2 1071.8,3617.0 1077.7,3617.7 1083.7,3618.4 1089.6,3619.1 1095.6,3619.8 1101.5,3620.5 1107.5,3621.1 1113.5,3621.7 1119.4,3622.3 1125.4,3622.9 1131.3,3623.5 1137.3,3624.1 1143.2,3624.6 1149.2,3625.2 1155.1,3625.7 1161.1,3626.2 1167.1,3626.7 1173.0,3627.2 1179.0,3627.6 1184.9,3628.1 1190.9,3628.5 1196.8,3629.0 1202.8,3629.4 1208.8,3629.8 1214.7,3630.2 1220.7,3630.6 1226.6,3631.0 1232.6,3631.3 1238.5,3631.7 1244.5,3632.1 1250.4,3632.4 1256.4,3632.7 1262.4,3633.1 1268.3,3633.4 1274.3,3633.7 1280.2,3634.0 1286.2,3634.3 1292.1,3634.5 1298.1,3634.8 1304.0,3635.1 1310.0,3635.3 1316.0,3635.6 1321.9,3635.8 1327.9,3636.1 1333.8,3636.3 1339.8,3636.6 1345.7,3636.8 1351.7,3637.0 1357.6,3637.2 1363.6,3637.4 1369.6,3637.6 1375.5,3637.8 1381.5,3638.0 1387.4,3638.2 1393.4,3638.4 1399.3,3638.5 1405.3,3638.7 1411.2,3638.9 1417.2,3639.0 1423.2,3639.2 1429.1,3639.3 1435.1,3639.5 1441.0,3639.6 1447.0,3639.8 1452.9,3639.9 1458.9,3640.0 1464.9,3640.2 1470.8,3640.3 1476.8,3640.4 1482.7,3640.5 1488.7,3640.7 1494.6,3640.8 1500.6,3640.9 1506.5,3641.0 1512.5,3641.1 1518.5,3641.2 1524.4,3641.3 1530.4,3641.4 1536.3,3641.5 1542.3,3641.6 1548.2,3641.7 1554.2,3641.8 1560.1,3641.8 1566.1,3641.9 1572.1,3642.0 1578.0,3642.1 1584.0,3642.2 1589.9,3642.2 1595.9,3642.3 1601.8,3642.4 1607.8,3642.5 1613.7,3642.5 1619.7,3642.6 1625.7,3642.6 1631.6,3642.7 1637.6,3642.8 1643.5,3642.8 1649.5,3642.9 1655.4,3642.9 1661.4,3643.0" fill="none" stroke="#f00" stroke-width="6" stroke-linejoin="round" stroke-linecap="butt"/>
<g fill="#000">
<text transform="translate(249.59,1153.90) scale(0.9772,1.0000)" font-size="50" font-family="'Liberation Sans',Arial,sans-serif" font-weight="bold">0</text>
<text transform="translate(223.21,937.70) scale(0.9772,1.0000)" font-size="50" font-family="'Liberation Sans',Arial,sans-serif" font-weight="bold">50</text>
<text transform="translate(195.85,721.50) scale(0.9772,1.0000)" font-size="50" font-family="'Liberation Sans',Arial,sans-serif" font-weight="bold">100</text>
<text transform="translate(195.85,505.30) scale(0.9772,1.0000)" font-size="50" font-family="'Liberation Sans',Arial,sans-serif" font-weight="bold">150</text>
<text transform="translate(195.85,289.10) scale(0.9772,1.0000)" font-size="50" font-family="'Liberation Sans',Arial,sans-serif" font-weight="bold">200</text>
<text transform="translate(195.85,72.90) scale(0.9772,1.0000)" font-size="50" font-family="'Liberation Sans',Arial,sans-serif" font-weight="bold">250</text>
<text transform="translate(306.91,1225.00) scale(0.9566,1.0029)" font-size="50" font-family="'Liberation Sans',Arial,sans-serif" font-weight="bold">0</text>
<text transform="translate(459.70,1225.00) scale(0.9566,1.0029)" font-size="50" font-family="'Liberation Sans',Arial,sans-serif" font-weight="bold">200</text>
<text transform="translate(639.28,1225.00) scale(0.9566,1.0029)" font-size="50" font-family="'Liberation Sans',Arial,sans-serif" font-weight="bold">400</text>
<text transform="translate(817.90,1225.00) scale(0.9566,1.0029)" font-size="50" font-family="'Liberation Sans',Arial,sans-serif" font-weight="bold">600</text>
<text transform="translate(997.00,1225.00) scale(0.9566,1.0029)" font-size="50" font-family="'Liberation Sans',Arial,sans-serif" font-weight="bold">800</text>
<text transform="translate(1162.23,1225.00) scale(0.9566,1.0029)" font-size="50" font-family="'Liberation Sans',Arial,sans-serif" font-weight="bold">1000</text>
<text transform="translate(1341.33,1225.00) scale(0.9566,1.0029)" font-size="50" font-family="'Liberation Sans',Arial,sans-serif" font-weight="bold">1200</text>
<text transform="translate(1520.43,1225.00) scale(0.9566,1.0029)" font-size="50" font-family="'Liberation Sans',Arial,sans-serif" font-weight="bold">1400</text>
<text transform="translate(1699.53,1225.00) scale(0.9566,1.0029)" font-size="50" font-family="'Liberation Sans',Arial,sans-serif" font-weight="bold">1600</text>
<text transform="translate(247.03,2487.10) scale(1.1485,1.0062)" font-size="48" font-family="'Liberation Serif','Times New Roman',serif" font-weight="bold">0</text>
<text transform="translate(219.47,2271.10) scale(1.1485,1.0062)" font-size="48" font-family="'Liberation Serif','Times New Roman',serif" font-weight="bold">50</text>
<text transform="translate(191.90,2055.10) scale(1.1485,1.0062)" font-size="48" font-family="'Liberation Serif','Times New Roman',serif" font-weight="bold">100</text>
<text transform="translate(191.90,1839.10) scale(1.1485,1.0062)" font-size="48" font-family="'Liberation Serif','Times New Roman',serif" font-weight="bold">150</text>
<text transform="translate(191.90,1623.10) scale(1.1485,1.0062)" font-size="48" font-family="'Liberation Serif','Times New Roman',serif" font-weight="bold">200</text>
<text transform="translate(191.90,1407.10) scale(1.1485,1.0062)" font-size="48" font-family="'Liberation Serif','Times New Roman',serif" font-weight="bold">250</text>
<text transform="translate(302.68,2542.80) scale(1.1353,1.0000)" font-size="48" font-family="'Liberation Serif','Times New Roman',serif" font-weight="bold">0</text>
<text transform="translate(594.03,2542.80) scale(1.1353,1.0000)" font-size="48" font-family="'Liberation Serif','Times New Roman',serif" font-weight="bold">200</text>
<text transform="translate(913.20,2542.80) scale(1.1353,1.0000)" font-size="48" font-family="'Liberation Serif','Times New Roman',serif" font-weight="bold">400</text>
<text transform="translate(1231.23,2542.80) scale(1.1353,1.0000)" font-size="48" font-family="'Liberation Serif','Times New Roman',serif" font-weight="bold">600</text>
<text transform="translate(1549.83,2542.80) scale(1.1353,1.0000)" font-size="48" font-family="'Liberation Serif','Times New Roman',serif" font-weight="bold">800</text>
<text transform="translate(250.97,3660.00) scale(1.2517,1.0034)" font-size="44" font-family="'Liberation Serif','Times New Roman',serif" font-weight="bold">0</text>
<text transform="translate(223.43,3524.42) scale(1.2517,1.0034)" font-size="44" font-family="'Liberation Serif','Times New Roman',serif" font-weight="bold">20</text>
<text transform="translate(223.43,3388.84) scale(1.2517,1.0034)" font-size="44" font-family="'Liberation Serif','Times New Roman',serif" font-weight="bold">40</text>
<text transform="translate(223.43,3253.26) scale(1.2517,1.0034)" font-size="44" font-family="'Liberation Serif','Times New Roman',serif" font-weight="bold">60</text>
<text transform="translate(223.43,3117.68) scale(1.2517,1.0034)" font-size="44" font-family="'Liberation Serif','Times New Roman',serif" font-weight="bold">80</text>
<text transform="translate(195.89,2982.10) scale(1.2517,1.0034)" font-size="44" font-family="'Liberation Serif','Times New Roman',serif" font-weight="bold">100</text>
<text transform="translate(195.89,2846.52) scale(1.2517,1.0034)" font-size="44" font-family="'Liberation Serif','Times New Roman',serif" font-weight="bold">120</text>
<text transform="translate(195.89,2710.94) scale(1.2517,1.0034)" font-size="44" font-family="'Liberation Serif','Times New Roman',serif" font-weight="bold">140</text>
<text transform="translate(452.32,3721.40) scale(1.2524,1.0241)" font-size="44" font-family="'Liberation Serif','Times New Roman',serif" font-weight="bold">0</text>
<text transform="translate(585.63,3721.40) scale(1.2524,1.0241)" font-size="44" font-family="'Liberation Serif','Times New Roman',serif" font-weight="bold">200</text>
<text transform="translate(747.12,3721.40) scale(1.2524,1.0241)" font-size="44" font-family="'Liberation Serif','Times New Roman',serif" font-weight="bold">400</text>
<text transform="translate(907.35,3721.40) scale(1.2524,1.0241)" font-size="44" font-family="'Liberation Serif','Times New Roman',serif" font-weight="bold">600</text>
<text transform="translate(1068.21,3721.40) scale(1.2524,1.0241)" font-size="44" font-family="'Liberation Serif','Times New Roman',serif" font-weight="bold">800</text>
<text transform="translate(1214.04,3721.40) scale(1.2524,1.0241)" font-size="44" font-family="'Liberation Serif','Times New Roman',serif" font-weight="bold">1000</text>
<text transform="translate(1374.90,3721.40) scale(1.2524,1.0241)" font-size="44" font-family="'Liberation Serif','Times New Roman',serif" font-weight="bold">1200</text>
<text transform="translate(1535.76,3721.40) scale(1.2524,1.0241)" font-size="44" font-family="'Liberation Serif','Times New Roman',serif" font-weight="bold">1400</text>
<text transform="translate(1696.62,3721.40) scale(1.2524,1.0241)" font-size="44" font-family="'Liberation Serif','Times New Roman',serif" font-weight="bold">1600</text>
<text transform="translate(384.41,154.36) scale(1.0727,0.9747)" font-size="88" font-family="'Liberation Serif','Times New Roman',serif" font-weight="normal" >(</text>
<text transform="translate(414.09,153.95) scale(0.9050,0.9524)" font-size="88" font-family="'Liberation Serif','Times New Roman',serif" font-weight="bold" >a</text>
<text transform="translate(453.74,153.61) scale(1.0545,0.9625)" font-size="88" font-family="'Liberation Serif','Times New Roman',serif" font-weight="normal" >)</text>
<text transform="translate(374.61,1489.36) scale(1.0727,0.9747)" font-size="88" font-family="'Liberation Serif','Times New Roman',serif" font-weight="normal" >(</text>
<text transform="translate(406.17,1490.00) scale(0.9341,0.9226)" font-size="88" font-family="'Liberation Serif','Times New Roman',serif" font-weight="bold" >b</text>
<text transform="translate(448.74,1488.61) scale(1.0545,0.9625)" font-size="88" font-family="'Liberation Serif','Times New Roman',serif" font-weight="normal" >)</text>
<text transform="translate(384.41,2816.12) scale(1.0727,0.9709)" font-size="88" font-family="'Liberation Serif','Times New Roman',serif" font-weight="normal" >(</text>
<text transform="translate(413.95,2815.87) scale(0.9500,0.9326)" font-size="88" font-family="'Liberation Serif','Times New Roman',serif" font-weight="bold" >c</text>
<text transform="translate(449.86,2815.38) scale(1.0455,0.9587)" font-size="88" font-family="'Liberation Serif','Times New Roman',serif" font-weight="normal" >)</text>
<text transform="translate(1299.90,139.88) scale(1.0591,1.0024)" font-size="48" font-family="'Liberation Serif','Times New Roman',serif" font-weight="bold" >y=<tspan>135.44</tspan>e</text>
<text transform="translate(1514.96,110.80) scale(1.0206,0.9969)" font-size="48" font-family="'Liberation Serif','Times New Roman',serif" font-weight="bold" >-5.5E-03x</text>
<text transform="translate(1292.84,209.00) scale(1.0618,1.0000)" font-size="48" font-family="'Liberation Serif','Times New Roman',serif" font-weight="bold" >R</text>
<text transform="translate(1325.78,179.70) scale(1.1600,1.0000)" font-size="48" font-family="'Liberation Serif','Times New Roman',serif" font-weight="bold" >2</text>
<text transform="translate(1352.78,209.66) scale(1.0578,1.0140)" font-size="48" font-family="'Liberation Serif','Times New Roman',serif" font-weight="bold" >=0.66<tspan font-weight="normal" font-size="45.6"><tspan letter-spacing="4">*</tspan>*</tspan>(n=205)</text>
<text transform="translate(1284.50,1465.39) scale(1.0536,0.9810)" font-size="48" font-family="'Liberation Serif','Times New Roman',serif" font-weight="bold" >y=<tspan>85.08</tspan>e</text>
<text transform="translate(1471.95,1437.40) scale(1.0258,1.0156)" font-size="48" font-family="'Liberation Serif','Times New Roman',serif" font-weight="bold" >-3.9E-03x</text>
<text transform="translate(1283.84,1549.70) scale(1.0618,0.9906)" font-size="48" font-family="'Liberation Serif','Times New Roman',serif" font-weight="bold" >R</text>
<text transform="translate(1316.81,1520.90) scale(1.1450,1.0000)" font-size="48" font-family="'Liberation Serif','Times New Roman',serif" font-weight="bold" >2</text>
<text transform="translate(1343.78,1550.59) scale(1.0581,1.0209)" font-size="48" font-family="'Liberation Serif','Times New Roman',serif" font-weight="bold" >=0.44<tspan font-weight="normal" font-size="45.6"><tspan letter-spacing="4">*</tspan>*</tspan>(n=144)</text>
<text transform="translate(1334.50,2773.95) scale(1.1518,1.0053)" font-size="44" font-family="'Liberation Serif','Times New Roman',serif" font-weight="bold" >y=<tspan>62.42</tspan>e</text>
<text transform="translate(1521.58,2747.90) scale(1.1112,1.0034)" font-size="44" font-family="'Liberation Serif','Times New Roman',serif" font-weight="bold" >-3.6E-03x</text>
<text transform="translate(1333.74,2848.00) scale(1.1645,1.0034)" font-size="44" font-family="'Liberation Serif','Times New Roman',serif" font-weight="bold" >R</text>
<text transform="translate(1366.56,2821.80) scale(1.2722,1.0034)" font-size="44" font-family="'Liberation Serif','Times New Roman',serif" font-weight="bold" >2</text>
<text transform="translate(1393.60,2848.24) scale(1.1498,0.9625)" font-size="44" font-family="'Liberation Serif','Times New Roman',serif" font-weight="bold" >=0.53<tspan font-weight="normal" font-size="41.8"><tspan letter-spacing="4">*</tspan>*</tspan>(n=203)</text>
<text transform="translate(684.83,1290.00) scale(0.9717,1.0000)" font-size="61" font-family="'Liberation Serif','Times New Roman',serif" font-weight="bold" >N application rate (kg ha<tspan dy="-30" font-size="39">-1</tspan><tspan dy="30">)</tspan></text>
<text transform="translate(634.80,2603.29) scale(1.0019,1.0205)" font-size="59.5" font-family="'Liberation Serif','Times New Roman',serif" font-weight="bold" >P<tspan dy="20" font-size="38">2</tspan><tspan dy="-20">O</tspan><tspan dy="20" font-size="38">5</tspan><tspan dy="-20"> Application rate (kg ha</tspan><tspan dy="-28.5" font-size="38">-1</tspan><tspan dy="28.5">)</tspan></text>
<text transform="translate(625.24,3775.19) scale(1.1573,1.0143)" font-size="50.5" font-family="'Liberation Serif','Times New Roman',serif" font-weight="bold" >K<tspan dy="15.4" font-size="36">2</tspan><tspan dy="-15.4">O application rate (kg ha</tspan><tspan dy="-26" font-size="34">-1</tspan><tspan dy="26"> )</tspan></text>
<text transform="translate(127.53,807.53) rotate(-90) scale(1.0332,0.9912)" font-size="69" font-family="'Liberation Serif','Times New Roman',serif" font-weight="bold" >AEN (kg kg<tspan dy="-30">-1</tspan><tspan dy="30">)</tspan></text>
<text transform="translate(133.03,2136.44) rotate(-90) scale(1.0357,0.9978)" font-size="69" font-family="'Liberation Serif','Times New Roman',serif" font-weight="bold" >AEP (kg kg<tspan dy="-30">-1</tspan><tspan dy="30">)</tspan></text>
<text transform="translate(129.25,3357.35) rotate(-90) scale(1.0457,1.0346)" font-size="62" font-family="'Liberation Serif','Times New Roman',serif" font-weight="bold" >AEK(kg kg<tspan dy="-28">-1</tspan><tspan dy="28">)</tspan></text>
</g>
</svg></body></html>
